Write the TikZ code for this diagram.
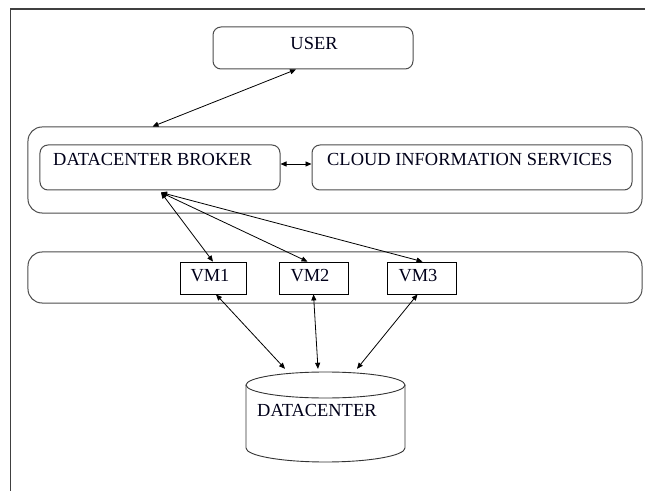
\documentclass[tikz,border=0pt]{standalone}
\usepackage{fontspec}
\setmainfont{Liberation Serif}
\usetikzlibrary{arrows.meta,calc}
\tikzset{
  box/.style={draw=black!70, line width=1bp, rounded corners=8bp, inner sep=0pt},
  bigbox/.style={draw=black!70, line width=1bp, rounded corners=14bp, inner sep=0pt},
  vmbox/.style={draw=black, line width=0.8bp, inner sep=0pt, minimum height=32bp},
  lbl/.style={font=\fontsize{18.5}{21}\selectfont, inner sep=0pt, text=black!90!blue},
  link/.style={line width=0.8bp, {Triangle[length=6bp,width=5bp]}-{Triangle[length=6bp,width=5bp]}},
}
\begin{document}
\begin{tikzpicture}[x=1bp,y=-1bp]
\useasboundingbox (0,0) rectangle (645,491);
\begin{scope}
\clip (0,0) rectangle (645,491);
\draw[black!75, line width=1.4bp] (10.5,700) -- (10.5,9) -- (700,9);
\end{scope}
% user
\node[box, minimum width=200bp, minimum height=42bp] (user) at (313,48) {};
\node[lbl] (usertxt) at (314,43) {USER};
% broker layer
\node[bigbox, minimum width=614bp, minimum height=86bp] (sys) at (335,170) {};
\node[box, minimum width=240bp, minimum height=45bp] (broker) at (160,167.5) {};
\node[box, minimum width=320bp, minimum height=45bp] (cis) at (472,167.5) {};
\node[lbl, anchor=west] (brokertxt) at (53,159.5) {DATACENTER BROKER};
\node[lbl, anchor=west] (cistxt) at (327,159.5) {CLOUD INFORMATION SERVICES};
% vm layer
\node[bigbox, minimum width=614bp, minimum height=51bp] (vml) at (335,277.5) {};
\node[vmbox, minimum width=66bp] (vm1) at (213,278) {};
\node[vmbox, minimum width=69bp] (vm2) at (313.5,278) {};
\node[vmbox, minimum width=69bp] (vm3) at (421.5,278) {};
\node[lbl] (vm1t) at (210,276) {VM1};
\node[lbl] (vm2t) at (310,276) {VM2};
\node[lbl] (vm3t) at (418,276) {VM3};
% datacenter cylinder
\node[minimum width=159bp, minimum height=90bp, inner sep=0pt] (dc) at (325.5,417) {};
\draw[black!80, line width=0.9bp] (325.5,385) ellipse[x radius=79.5, y radius=13];
\draw[black!80, line width=0.9bp] (246,385) -- (246,448) arc[start angle=180, end angle=0, x radius=79.5, y radius=14] -- (405,385);
\node[lbl, anchor=west] (dctxt) at (257,410) {DATACENTER};
% connectors
\draw[link] ($(user.south)+(-17,0)$) -- ($(sys.north west)+(125,0)$);
\draw[link] (broker.east |- 0,164) -- (cis.west |- 0,164);
\draw[link] ($(broker.south)+(1,2)$) -- (vm1.north);
\draw[link] ($(broker.south)+(1,2)$) -- ($(vm2.north)+(-6,0)$);
\draw[link] ($(broker.south)+(1,2)$) -- ($(vm3.north)+(1,0)$);
\draw[link] ($(vm1.south)+(3,0)$) -- ($(dc.north)+(-40.5,-3)$);
\draw[link] (vm2.south) -- ($(dc.north)+(-7.5,-3)$);
\draw[link] ($(vm3.south)+(-4,0)$) -- ($(dc.north)+(31.5,-3)$);
\end{tikzpicture}
\end{document}
